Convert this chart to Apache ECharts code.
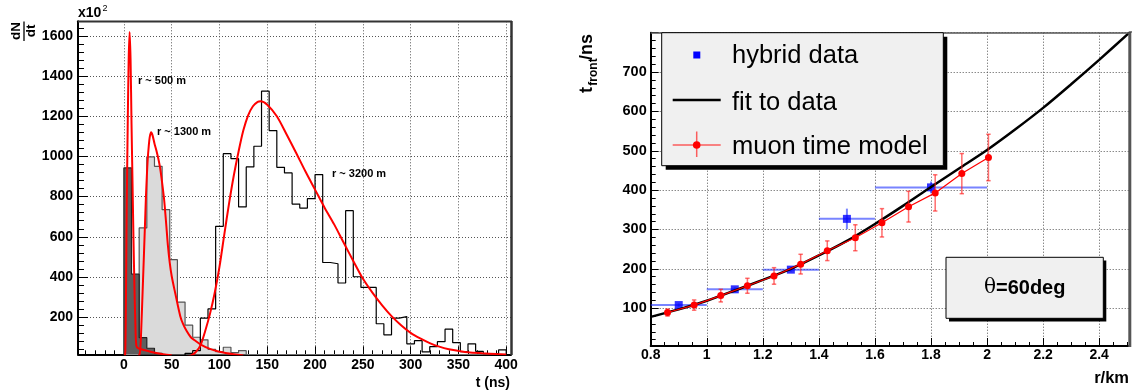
<!DOCTYPE html>
<html><head><meta charset="utf-8">
<script src="https://cdn.jsdelivr.net/npm/echarts@6/dist/echarts.min.js"></script>
<style>html,body{margin:0;padding:0;background:#fff;}#c{width:1136px;height:392px;}</style>
</head><body><div id="c"></div>
<script>
// ---------- LEFT PANEL DATA (histograms, t in ns, counts in units of 10^2) ----------
const tBinLow = [0,8,16,24,32,40,48,56,64,72,80,88,96,104,112,120,128,136,144,152,160,168,176,184,192,200,208,216,224,232,240,248,256,264,272,280,288,296,304,312,320,328,336,344,352,360,368,376,384,392];
const binWidth = 8;
const counts500  = [943,414,98,45,20,8,0,0,0,0,0,0,0,0,0,0,0,0,0,0,0,0,0,0,0,0,0,0,0,0,0,0,0,0,0,0,0,0,0,0,0,0,0,0,0,0,0,0,0,0];
const counts1300 = [0,0,644,998,951,735,486,275,160,100,87,40,28,50,23,33,0,0,0,0,0,0,0,0,0,0,0,0,0,0,0,0,0,0,0,0,0,0,0,0,0,0,0,0,0,0,0,0,0,0];
const counts3200 = [0,0,0,0,0,0,0,0,20,33,195,241,652,1014,989,749,948,1051,1325,1129,946,918,763,743,790,910,472,466,370,730,401,348,348,167,112,195,203,67,83,27,53,78,140,73,28,67,30,18,18,37];
// fitted curves
const fit500T  = [1,1.5,2,2.5,3,3.5,4,5,6,7,8,9,10,11,12,13,15,20,30,41,50];
const fit500V  = [0,30,200,480,760,960,1150,1480,1620,1480,1160,880,600,360,170,60,45,38,25,15,10];
const fit1300T = [14,16,17,18,20,22,23,24,25,26,27,28.5,30,32,34,36,38,40,42,44,46,48,50,53.7,59,62,66,70,74,80,90,100,115,125];
const fit1300V = [0,10,30,120,380,650,790,900,990,1050,1095,1120,1105,1065,1030,990,940,870,790,680,560,470,405,320,205,165,128,100,85,65,42,28,15,9];
const fit3200T = [64,70,75,80,85,90,95,100,105,110,115,120,125,130,135,140,143,150,160,170,180,190,200,210,220,230,240,250,260,270,280,290,300,310,320,330,340,350,360,375,390,400];
const fit3200V = [0,8,25,58,130,215,320,450,610,765,905,1025,1130,1205,1250,1272,1275,1258,1200,1112,1020,925,835,745,662,570,480,392,322,260,205,160,122,94,71,53,40,32,25,20,16,14];

// ---------- RIGHT PANEL DATA (r in km, t_front in ns) ----------
const hybridR    = [0.9, 1.1, 1.3, 1.5, 1.8];
const hybridRLo  = [0.8, 1.0, 1.2, 1.4, 1.6];
const hybridRHi  = [1.0, 1.2, 1.4, 1.6, 2.0];
const hybridT    = [108, 148, 198, 327, 407];
const hybridTErr = [4, 5, 5, 26, 15];
const muonR   = [0.86,0.955,1.05,1.145,1.24,1.335,1.43,1.53,1.625,1.72,1.815,1.91,2.005];
const muonT   = [89,108,132,157,182,212,246,279,317,358,393,442,483];
const muonErr = [9,13,16,19,21,25,25,33,36,39,46,51,59];
const fitR = [0.8,0.9,1.0,1.1,1.2,1.3,1.4,1.5,1.6,1.7,1.8,1.9,2.0,2.1,2.2,2.3,2.4,2.5,2.52];
const fitT = [78,97,119,145,172,200,234,271,314,360,408,455,502,554,609,669,731,795,808];

const legendLabels = ['hybrid data','fit to data','muon time model'];
const angleLabel = '=60deg';

const FONT = "'Liberation Sans', Arial, Helvetica, sans-serif";

function histPoints(counts){
  const n = counts.length;
  const pts = [[tBinLow[0], 0]];
  counts.forEach((c,i)=>pts.push([tBinLow[i], c]));
  pts.push([tBinLow[n-1]+binWidth, counts[n-1]]);
  pts.push([tBinLow[n-1]+binWidth, 0]);
  return pts;
}
function zip(a,b){ return a.map((v,i)=>[v,b[i]]); }
const plain = v => String(+v.toFixed(6));

const lbl = {color:'#000', fontSize:14, fontWeight:'bold', fontFamily:FONT, formatter:plain};
const gridLine = {show:true, lineStyle:{color:'#555', width:1, type:[1,2]}};

const chart = echarts.init(document.getElementById('c'), null, {renderer:'canvas'});

const redCurve = (t,v)=>({type:'line', xAxisIndex:0, yAxisIndex:0, data:zip(t,v), smooth:0.3, symbol:'none',
  lineStyle:{color:'#ff0000', width:2}, z:6, silent:true});

const option = {
  animation:false,
  backgroundColor:'#fff',
  grid:[
    {left:78, top:21.3, width:433, height:333, show:false},
    {left:650.7, top:32.7, width:479.3, height:313.3, show:false}
  ],
  xAxis:[
    {type:'value', gridIndex:0, min:-48, max:405, minInterval:50, maxInterval:50,
     axisLine:{show:true, onZero:false, lineStyle:{color:'#000', width:2}},
     axisTick:{show:true, inside:true, length:8, lineStyle:{color:'#000', width:1}},
     minorTick:{show:true, splitNumber:5, length:4, lineStyle:{color:'#000', width:1}},
     splitLine:gridLine,
     axisLabel:Object.assign({showMinLabel:false, showMaxLabel:false, margin:4}, lbl)},
    {type:'value', gridIndex:1, min:0.8, max:2.51, minInterval:0.2, maxInterval:0.2,
     axisLine:{show:true, onZero:false, lineStyle:{color:'#000', width:2}},
     axisTick:{show:true, inside:true, length:8, lineStyle:{color:'#000', width:1}},
     minorTick:{show:true, splitNumber:4, length:4, lineStyle:{color:'#000', width:1}},
     splitLine:gridLine,
     axisLabel:Object.assign({showMaxLabel:false, margin:2}, lbl)}
  ],
  yAxis:[
    {type:'value', gridIndex:0, min:15, max:1673, minInterval:200, maxInterval:200,
     axisLine:{show:true, onZero:false, lineStyle:{color:'#000', width:2}},
     axisTick:{show:true, inside:true, length:10, lineStyle:{color:'#000', width:1}},
     minorTick:{show:true, splitNumber:5, length:6, lineStyle:{color:'#000', width:1}},
     splitLine:gridLine,
     axisLabel:Object.assign({showMinLabel:false, showMaxLabel:false, margin:5}, lbl)},
    {type:'value', gridIndex:1, min:4, max:800, minInterval:100, maxInterval:100,
     axisLine:{show:true, onZero:false, lineStyle:{color:'#000', width:2}},
     axisTick:{show:true, inside:true, length:8, lineStyle:{color:'#000', width:1}},
     minorTick:{show:true, splitNumber:5, length:5, lineStyle:{color:'#000', width:1}},
     splitLine:gridLine,
     axisLabel:Object.assign({}, lbl, {showMinLabel:false, showMaxLabel:false, margin:4, fontSize:14.5})}
  ],
  series:[
    {type:'line', xAxisIndex:0, yAxisIndex:0, step:'end', data:histPoints(counts1300), symbol:'none',
     lineStyle:{color:'#555', width:1.2}, areaStyle:{color:'#dadada', opacity:1, origin:'start'}, z:2, silent:true},
    {type:'line', xAxisIndex:0, yAxisIndex:0, step:'end', data:histPoints(counts500), symbol:'none',
     lineStyle:{color:'#222', width:1.2}, areaStyle:{color:'#5e5e5e', opacity:1, origin:'start'}, z:3, silent:true},
    {type:'line', xAxisIndex:0, yAxisIndex:0, step:'end', data:histPoints(counts3200), symbol:'none',
     lineStyle:{color:'#000', width:1.2}, z:4, silent:true},
    redCurve(fit500T, fit500V),
    redCurve(fit1300T, fit1300V),
    redCurve(fit3200T, fit3200V),
    // right panel
    {type:'custom', xAxisIndex:1, yAxisIndex:1, z:2, silent:true,
     data:hybridR.map((r,i)=>[r, hybridT[i], hybridRLo[i], hybridRHi[i], hybridTErr[i]]),
     renderItem:function(params, api){
       const x=api.value(0), y=api.value(1), lo=api.value(2), hi=api.value(3), e=api.value(4);
       const a=api.coord([lo,y]), b=api.coord([hi,y]), c=api.coord([x,y-e]), d=api.coord([x,y+e]);
       const st={stroke:'rgba(30,50,255,0.6)', lineWidth:2};
       return {type:'group', children:[
         {type:'line', shape:{x1:a[0],y1:a[1],x2:b[0],y2:b[1]}, style:st},
         {type:'line', shape:{x1:c[0],y1:c[1],x2:d[0],y2:d[1]}, style:st}
       ]};
     }},
    {type:'scatter', xAxisIndex:1, yAxisIndex:1, data:zip(hybridR, hybridT), symbol:'rect', symbolSize:8,
     itemStyle:{color:'#0000ff'}, z:3, silent:true},
    {type:'line', xAxisIndex:1, yAxisIndex:1, data:zip(fitR, fitT), smooth:0.3, symbol:'none',
     lineStyle:{color:'#000', width:2.5}, z:4, silent:true},
    {type:'custom', xAxisIndex:1, yAxisIndex:1, z:5, silent:true,
     data:muonR.map((r,i)=>[r, muonT[i], muonErr[i]]),
     renderItem:function(params, api){
       const x=api.value(0), y=api.value(1), e=api.value(2);
       const p0=api.coord([x,y-e]), p1=api.coord([x,y+e]);
       const cap=2.2, st={stroke:'rgba(255,30,30,0.65)', lineWidth:1.5};
       return {type:'group', children:[
         {type:'line', shape:{x1:p0[0],y1:p0[1],x2:p1[0],y2:p1[1]}, style:st},
         {type:'line', shape:{x1:p0[0]-cap,y1:p0[1],x2:p0[0]+cap,y2:p0[1]}, style:st},
         {type:'line', shape:{x1:p1[0]-cap,y1:p1[1],x2:p1[0]+cap,y2:p1[1]}, style:st}
       ]};
     }},
    {type:'line', xAxisIndex:1, yAxisIndex:1, data:zip(muonR, muonT), symbol:'circle', symbolSize:7,
     itemStyle:{color:'#ff0000'}, lineStyle:{color:'#ff0000', width:1.2}, z:6, silent:true}
  ],
  graphic:[
    // left frame (top / right)
    {type:'line', z:50, shape:{x1:78,y1:21.5,x2:512,y2:21.5}, style:{stroke:'#333', lineWidth:2}},
    {type:'line', z:50, shape:{x1:511.5,y1:21,x2:511.5,y2:355}, style:{stroke:'#333', lineWidth:2.5}},
    // right frame (top / right)
    {type:'line', z:50, shape:{x1:650.7,y1:33,x2:1131,y2:33}, style:{stroke:'#555', lineWidth:1.5}},
    {type:'line', z:50, shape:{x1:1129.8,y1:32.5,x2:1129.8,y2:347}, style:{stroke:'#555', lineWidth:3}},
    // left axis titles
    {type:'text', z:60, x:16.5, y:31, rotation:Math.PI/2, style:{text:'dN', fontSize:13.5, fontWeight:'bold', fontFamily:FONT, fill:'#000', align:'center', verticalAlign:'middle', textAlign:'center', textVerticalAlign:'middle'}},
    {type:'line', z:60, shape:{x1:24,y1:21.5,x2:24,y2:41}, style:{stroke:'#000', lineWidth:1.3}},
    {type:'text', z:60, x:31.5, y:31, rotation:Math.PI/2, style:{text:'dt', fontSize:13.5, fontWeight:'bold', fontFamily:FONT, fill:'#000', align:'center', verticalAlign:'middle', textAlign:'center', textVerticalAlign:'middle'}},
    {type:'text', z:60, x:78, y:13.5, style:{text:'x10', fontSize:14, fontWeight:'bold', fontFamily:FONT, fill:'#000', align:'left', verticalAlign:'middle', textAlign:'left', textVerticalAlign:'middle'}},
    {type:'text', z:60, x:102.5, y:8.5, style:{text:'2', fontSize:9, fontFamily:FONT, fill:'#000', align:'left', verticalAlign:'middle', textAlign:'left', textVerticalAlign:'middle'}},
    {type:'text', z:60, x:510, y:383, style:{text:'t (ns)', fontSize:14, fontWeight:'bold', fontFamily:FONT, fill:'#000', align:'right', verticalAlign:'middle', textAlign:'right', textVerticalAlign:'middle'}},
    // left annotations
    {type:'text', z:60, x:138, y:80.7, style:{text:'r ~ 500 m', fontSize:11, fontWeight:'bold', fontFamily:FONT, fill:'#000', align:'left', verticalAlign:'middle', textAlign:'left', textVerticalAlign:'middle'}},
    {type:'text', z:60, x:157, y:131.7, style:{text:'r ~ 1300 m', fontSize:11, fontWeight:'bold', fontFamily:FONT, fill:'#000', align:'left', verticalAlign:'middle', textAlign:'left', textVerticalAlign:'middle'}},
    {type:'text', z:60, x:332, y:174.3, style:{text:'r ~ 3200 m', fontSize:11, fontWeight:'bold', fontFamily:FONT, fill:'#000', align:'left', verticalAlign:'middle', textAlign:'left', textVerticalAlign:'middle'}},
    // right axis titles
    {type:'text', z:60, x:587, y:90, rotation:Math.PI/2, style:{text:'t', fontSize:18, fontWeight:'bold', fontFamily:FONT, fill:'#000', align:'center', verticalAlign:'middle', textAlign:'center', textVerticalAlign:'middle'}},
    {type:'text', z:60, x:594, y:72, rotation:Math.PI/2, style:{text:'front', fontSize:12, fontWeight:'bold', fontFamily:FONT, fill:'#000', align:'center', verticalAlign:'middle', textAlign:'center', textVerticalAlign:'middle'}},
    {type:'text', z:60, x:587, y:47, rotation:Math.PI/2, style:{text:'/ns', fontSize:18, fontWeight:'bold', fontFamily:FONT, fill:'#000', align:'center', verticalAlign:'middle', textAlign:'center', textVerticalAlign:'middle'}},
    {type:'text', z:60, x:1129, y:378, style:{text:'r/km', fontSize:16.5, fontWeight:'bold', fontFamily:FONT, fill:'#000', align:'right', verticalAlign:'middle', textAlign:'right', textVerticalAlign:'middle'}},
    // legend
    {type:'rect', z:70, shape:{x:665.7, y:36.7, width:281.6, height:133}, style:{fill:'#000'}},
    {type:'rect', z:71, shape:{x:661.7, y:32.7, width:281.6, height:133}, style:{fill:'#f0f0f0', stroke:'#000', lineWidth:1}},
    {type:'rect', z:72, shape:{x:693.3, y:51.5, width:7, height:7}, style:{fill:'#0000ff'}},
    {type:'text', z:72, x:732, y:56, style:{text:legendLabels[0], fontSize:25.5, fontFamily:FONT, fill:'#000', align:'left', verticalAlign:'middle', textAlign:'left', textVerticalAlign:'middle'}},
    {type:'line', z:72, shape:{x1:672.7,y1:100,x2:720.7,y2:100}, style:{stroke:'#000', lineWidth:2.5}},
    {type:'text', z:72, x:732, y:103, style:{text:legendLabels[1], fontSize:25.5, fontFamily:FONT, fill:'#000', align:'left', verticalAlign:'middle', textAlign:'left', textVerticalAlign:'middle'}},
    {type:'line', z:72, shape:{x1:672.7,y1:145,x2:720.7,y2:145}, style:{stroke:'rgba(255,30,30,0.7)', lineWidth:1.5}},
    {type:'line', z:72, shape:{x1:696.7,y1:131.5,x2:696.7,y2:157}, style:{stroke:'rgba(255,30,30,0.7)', lineWidth:1.5}},
    {type:'circle', z:73, shape:{cx:696.7, cy:145, r:3.8}, style:{fill:'#ff0000'}},
    {type:'text', z:72, x:732, y:147, style:{text:legendLabels[2], fontSize:25.5, fontFamily:FONT, fill:'#000', align:'left', verticalAlign:'middle', textAlign:'left', textVerticalAlign:'middle'}},
    // theta box
    {type:'rect', z:70, shape:{x:949, y:260.5, width:157.3, height:61}, style:{fill:'#000'}},
    {type:'rect', z:71, shape:{x:946, y:257.3, width:157.3, height:61}, style:{fill:'#f0f0f0', stroke:'#000', lineWidth:1}},
    {type:'text', z:72, x:1024.7, y:288, style:{text:'{a|\u03b8}{b|' + angleLabel + '}', align:'center', verticalAlign:'middle', textAlign:'center', textVerticalAlign:'middle',
      rich:{a:{fontSize:20, fontFamily:"'DejaVu Serif', serif", fill:'#000', color:'#000'}, b:{fontSize:20, fontWeight:'bold', fontFamily:FONT, fill:'#000', color:'#000'}}}}
  ]
};
chart.setOption(option);
</script></body></html>
